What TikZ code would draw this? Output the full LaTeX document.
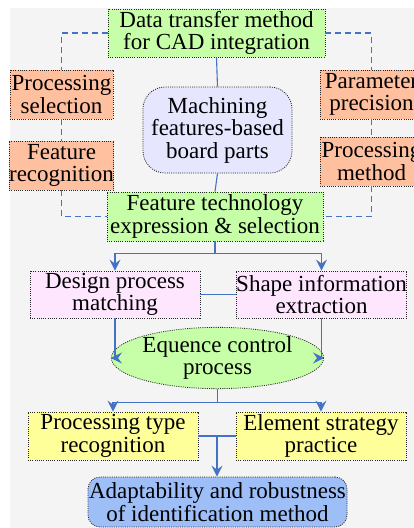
\documentclass[tikz,border=0pt]{standalone}
\usepackage{fontspec}
\setmainfont{Liberation Serif}
\usepackage{xcolor}
\usetikzlibrary{arrows.meta, shapes.geometric, calc}
\definecolor{lnblue}{RGB}{68, 114, 196}
\definecolor{boxgreen}{RGB}{198, 255, 168}
\definecolor{boxorange}{RGB}{255, 192, 160}
\definecolor{boxlav}{RGB}{230, 230, 255}
\definecolor{boxpink}{RGB}{255, 230, 255}
\definecolor{boxyellow}{RGB}{255, 255, 153}
\definecolor{boxblue}{RGB}{158, 190, 248}
\definecolor{bggray}{RGB}{244, 244, 244}

\begin{document}
\begin{tikzpicture}[x=1pt, y=-1pt, >={Stealth[length=11pt, width=11pt, inset=4pt]},
    font=\fontsize{23}{22.5}\selectfont,
    blk/.style={
        draw=black!85, line width=0.8pt, dash pattern=on 1pt off 1.2pt,
        align=center, inner sep=0pt
    },
    box_g/.style={blk, fill=boxgreen, minimum height=48pt},
    box_o/.style={blk, fill=boxorange, minimum width=103pt, minimum height=49pt},
    box_p/.style={blk, fill=boxpink, minimum width=170pt, minimum height=47pt},
    box_y/.style={blk, fill=boxyellow, minimum width=170pt, minimum height=48pt},
    wire/.style={-, lnblue, line width=1.1pt},
    signal/.style={->, lnblue, line width=1.1pt},
    dash_l/.style={-, lnblue, line width=1.1pt, dash pattern=on 6pt off 4pt},
]
    \useasboundingbox (0,0) rectangle (414,528);
    \clip (0,0) rectangle (414,528);
    \fill[bggray] (10,8) rectangle (414,528);

    % top half
    \node[box_g, minimum width=217pt] (dtm) at (216.5,33) {Data transfer method\\for CAD integration};
    \node[box_o] (psel) at (61.5,94.5) {Processing\\selection};
    \node[box_o] (frec) at (61.5,165.5) {Feature\\recognition};
    \node[box_o] (ppre) at (371.5,94.5) {Parameter\\precision};
    \node[box_o] (pmet) at (371.5,161.5) {Processing\\method};
    \node[blk, fill=boxlav, rounded corners=22pt, minimum width=149pt, minimum height=86pt]
        (mach) at (217.5,130) {Machining\\features-based\\board parts};
    \node[box_g, minimum width=216pt, minimum height=49pt] (ftec) at (215,216.5)
        {Feature technology\\expression \& selection};

    % lower half
    \node[box_p] (dpm) at (115,294.5) {Design process\\matching};
    \node[box_p, minimum width=169pt] (sie) at (321.5,294.5) {Shape information\\extraction};
    \node[blk, ellipse, fill=boxgreen, minimum width=171pt, minimum height=44pt]
        (eqc) at (217.5,358) {Equence control\\process};
    \node[box_y] (ptr) at (113,436) {Processing type\\recognition};
    \node[box_y] (esp) at (321,436) {Element strategy\\practice};
    \node[blk, fill=boxblue, rounded corners=12pt, minimum width=259pt, minimum height=50pt]
        (ada) at (217.5,502) {Adaptability and robustness\\of identification method};

    % dashed links
    \draw[dash_l] (dtm.west) -| (psel.north);
    \draw[dash_l] (psel.south) -- (frec.north);
    \draw[dash_l] (frec.south) |- (ftec.west);
    \draw[dash_l] (dtm.east) -| (ppre.north);
    \draw[dash_l] (ppre.south) -- (pmet.north);
    \draw[dash_l] (pmet.south) |- (ftec.east);

    % solid links
    \draw[wire] (dtm.south) -- (mach.north);
    \draw[wire] (mach.south) -- (ftec.north);
    \draw[signal] (ftec.south) -- ++(0,12) -| (dpm.north);
    \draw[signal] (ftec.south) -- ++(0,12) -| (sie.north);
    \draw[wire] (dpm.east) -- (sie.west);
    \draw[signal] (dpm.south) |- (eqc.west);
    \draw[signal] (sie.south) |- (eqc.east);
    \draw[signal] (eqc.south) -- ++(0,13) -| (ptr.north);
    \draw[signal] (eqc.south) -- ++(0,13) -| (esp.north);
    \draw[wire] (ptr.east) -- (esp.west);
    \coordinate (jn) at ($(ptr.east)!0.5!(esp.west)$);
    \draw[signal] (jn) -- (jn |- ada.north);

\end{tikzpicture}
\end{document}
